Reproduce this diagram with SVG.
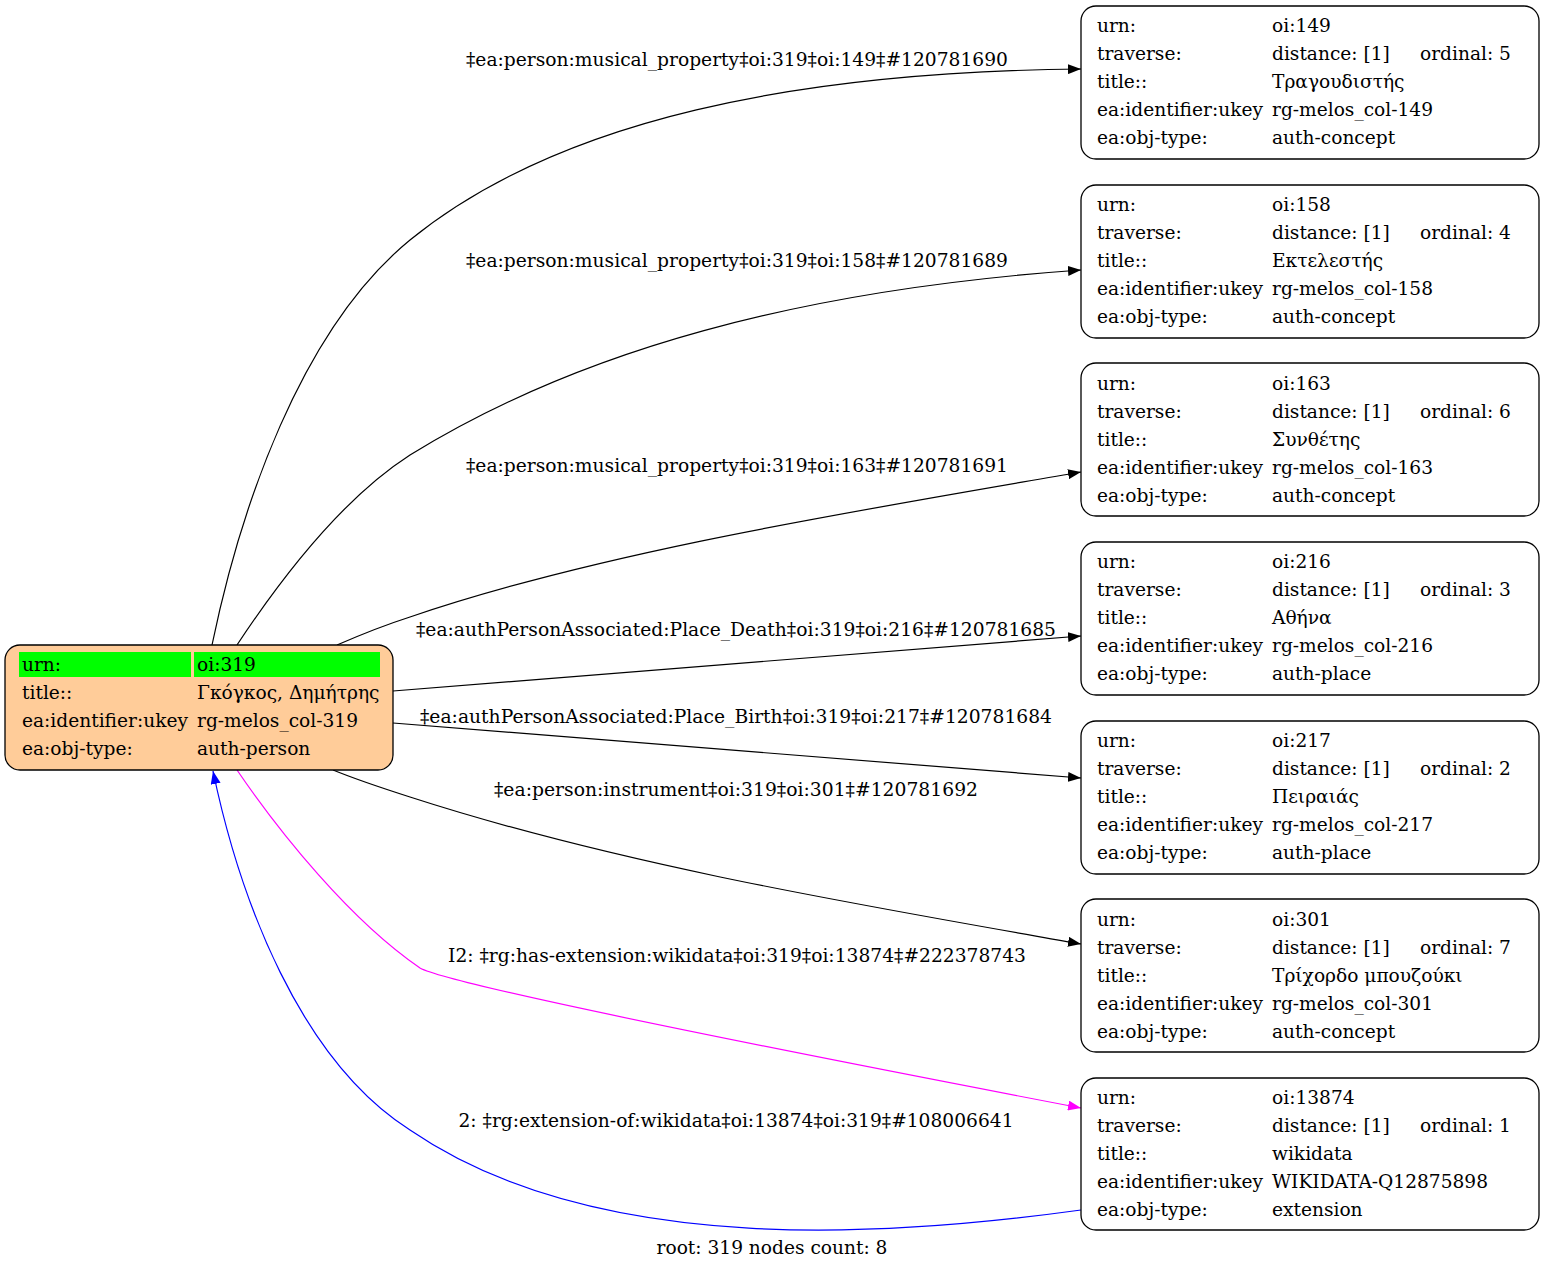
<svg xmlns="http://www.w3.org/2000/svg" width="1545" height="1268" viewBox="0 0 1545 1268">
<style>
text{font-family:"DejaVu Serif","Liberation Serif",serif;font-size:18.6px;fill:#000}
.el{font-size:18px}
.nb{fill:#fff;stroke:#000;stroke-width:1.3}
.root{fill:#ffcc99;stroke:#000;stroke-width:1.3}
.e{fill:none;stroke:#000;stroke-width:1.2}
.m{fill:none;stroke:#ff00ff;stroke-width:1.2}
.b{fill:none;stroke:#0000ff;stroke-width:1.2}
</style>
<defs>
<marker id="ak" viewBox="0 0 13 10" refX="13" refY="5" markerWidth="13" markerHeight="10" markerUnits="userSpaceOnUse" orient="auto"><path d="M0,0 L13,5 L0,10 z" fill="#000"/></marker>
<marker id="am" viewBox="0 0 13 10" refX="13" refY="5" markerWidth="13" markerHeight="10" markerUnits="userSpaceOnUse" orient="auto"><path d="M0,0 L13,5 L0,10 z" fill="#ff00ff"/></marker>
<marker id="ab" viewBox="0 0 13 10" refX="13" refY="5" markerWidth="13" markerHeight="10" markerUnits="userSpaceOnUse" orient="auto"><path d="M0,0 L13,5 L0,10 z" fill="#0000ff"/></marker>
</defs>
<rect width="1545" height="1268" fill="#fff"/>
<g id="edges">
<path class="e" d="M212,645 C240,510 300,330 410,240 C560,118 800,72 1081,69" marker-end="url(#ak)"/>
<text class="el" x="737" y="66" text-anchor="middle" textLength="542" lengthAdjust="spacingAndGlyphs">‡ea:person:musical_property‡oi:319‡oi:149‡#120781690</text>
<path class="e" d="M237,645 C280,580 340,500 410,455 C580,350 800,290 1081,270" marker-end="url(#ak)"/>
<text class="el" x="737" y="267" text-anchor="middle" textLength="542" lengthAdjust="spacingAndGlyphs">‡ea:person:musical_property‡oi:319‡oi:158‡#120781689</text>
<path class="e" d="M337,645 C360,635 385,625 410,617 C600,552 850,512 1081,472" marker-end="url(#ak)"/>
<text class="el" x="737" y="472" text-anchor="middle" textLength="542" lengthAdjust="spacingAndGlyphs">‡ea:person:musical_property‡oi:319‡oi:163‡#120781691</text>
<path class="e" d="M393,691 L1081,636" marker-end="url(#ak)"/>
<text class="el" x="736" y="636" text-anchor="middle" textLength="640" lengthAdjust="spacingAndGlyphs">‡ea:authPersonAssociated:Place_Death‡oi:319‡oi:216‡#120781685</text>
<path class="e" d="M393,723 L1081,778" marker-end="url(#ak)"/>
<text class="el" x="736" y="723" text-anchor="middle" textLength="632" lengthAdjust="spacingAndGlyphs">‡ea:authPersonAssociated:Place_Birth‡oi:319‡oi:217‡#120781684</text>
<path class="e" d="M333,770 C355,779 385,789 410,797 C620,865 860,905 1081,944" marker-end="url(#ak)"/>
<text class="el" x="736" y="796" text-anchor="middle" textLength="484" lengthAdjust="spacingAndGlyphs">‡ea:person:instrument‡oi:319‡oi:301‡#120781692</text>
<path class="m" d="M237,770 C280,833 350,920 420,968 C445,982 700,1035 1081,1108" marker-end="url(#am)"/>
<text class="el" x="737" y="962" text-anchor="middle" textLength="578" lengthAdjust="spacingAndGlyphs">I2: ‡rg:has-extension:wikidata‡oi:319‡oi:13874‡#222378743</text>
<path class="b" d="M1081,1210 C900,1235 600,1260 410,1130 C300,1060 240,900 213,771" marker-end="url(#ab)"/>
<text class="el" x="736" y="1127" text-anchor="middle" textLength="555" lengthAdjust="spacingAndGlyphs">2: ‡rg:extension-of:wikidata‡oi:13874‡oi:319‡#108006641</text>
</g>
<g id="node-319">
<rect class="root" x="5" y="645" width="388" height="125" rx="15"/>
<rect x="19" y="652" width="172" height="25" fill="#00ff00"/>
<rect x="194" y="652" width="186" height="25" fill="#00ff00"/>
<text x="22" y="671">urn:</text><text x="197" y="671">oi:319</text>
<text x="22" y="699">title::</text><text x="197" y="699">Γκόγκος, Δημήτρης</text>
<text x="22" y="727">ea:identifier:ukey</text><text x="197" y="727">rg-melos_col-319</text>
<text x="22" y="755">ea:obj-type:</text><text x="197" y="755">auth-person</text>
</g>
<g id="node-149">
<rect class="nb" x="1081" y="6" width="458" height="153" rx="15"/>
<text x="1097" y="32">urn:</text><text x="1272" y="32">oi:149</text>
<text x="1097" y="60">traverse:</text><text x="1272" y="60">distance: [1]</text><text x="1420" y="60">ordinal: 5</text>
<text x="1097" y="88">title::</text><text x="1272" y="88">Τραγουδιστής</text>
<text x="1097" y="116">ea:identifier:ukey</text><text x="1272" y="116">rg-melos_col-149</text>
<text x="1097" y="144">ea:obj-type:</text><text x="1272" y="144">auth-concept</text>
</g>
<g id="node-158">
<rect class="nb" x="1081" y="185" width="458" height="153" rx="15"/>
<text x="1097" y="211">urn:</text><text x="1272" y="211">oi:158</text>
<text x="1097" y="239">traverse:</text><text x="1272" y="239">distance: [1]</text><text x="1420" y="239">ordinal: 4</text>
<text x="1097" y="267">title::</text><text x="1272" y="267">Εκτελεστής</text>
<text x="1097" y="295">ea:identifier:ukey</text><text x="1272" y="295">rg-melos_col-158</text>
<text x="1097" y="323">ea:obj-type:</text><text x="1272" y="323">auth-concept</text>
</g>
<g id="node-163">
<rect class="nb" x="1081" y="363" width="458" height="153" rx="15"/>
<text x="1097" y="390">urn:</text><text x="1272" y="390">oi:163</text>
<text x="1097" y="418">traverse:</text><text x="1272" y="418">distance: [1]</text><text x="1420" y="418">ordinal: 6</text>
<text x="1097" y="446">title::</text><text x="1272" y="446">Συνθέτης</text>
<text x="1097" y="474">ea:identifier:ukey</text><text x="1272" y="474">rg-melos_col-163</text>
<text x="1097" y="502">ea:obj-type:</text><text x="1272" y="502">auth-concept</text>
</g>
<g id="node-216">
<rect class="nb" x="1081" y="542" width="458" height="153" rx="15"/>
<text x="1097" y="568">urn:</text><text x="1272" y="568">oi:216</text>
<text x="1097" y="596">traverse:</text><text x="1272" y="596">distance: [1]</text><text x="1420" y="596">ordinal: 3</text>
<text x="1097" y="624">title::</text><text x="1272" y="624">Αθήνα</text>
<text x="1097" y="652">ea:identifier:ukey</text><text x="1272" y="652">rg-melos_col-216</text>
<text x="1097" y="680">ea:obj-type:</text><text x="1272" y="680">auth-place</text>
</g>
<g id="node-217">
<rect class="nb" x="1081" y="721" width="458" height="153" rx="15"/>
<text x="1097" y="747">urn:</text><text x="1272" y="747">oi:217</text>
<text x="1097" y="775">traverse:</text><text x="1272" y="775">distance: [1]</text><text x="1420" y="775">ordinal: 2</text>
<text x="1097" y="803">title::</text><text x="1272" y="803">Πειραιάς</text>
<text x="1097" y="831">ea:identifier:ukey</text><text x="1272" y="831">rg-melos_col-217</text>
<text x="1097" y="859">ea:obj-type:</text><text x="1272" y="859">auth-place</text>
</g>
<g id="node-301">
<rect class="nb" x="1081" y="899" width="458" height="153" rx="15"/>
<text x="1097" y="926">urn:</text><text x="1272" y="926">oi:301</text>
<text x="1097" y="954">traverse:</text><text x="1272" y="954">distance: [1]</text><text x="1420" y="954">ordinal: 7</text>
<text x="1097" y="982">title::</text><text x="1272" y="982">Τρίχορδο μπουζούκι</text>
<text x="1097" y="1010">ea:identifier:ukey</text><text x="1272" y="1010">rg-melos_col-301</text>
<text x="1097" y="1038">ea:obj-type:</text><text x="1272" y="1038">auth-concept</text>
</g>
<g id="node-13874">
<rect class="nb" x="1081" y="1078" width="458" height="152" rx="15"/>
<text x="1097" y="1104">urn:</text><text x="1272" y="1104">oi:13874</text>
<text x="1097" y="1132">traverse:</text><text x="1272" y="1132">distance: [1]</text><text x="1420" y="1132">ordinal: 1</text>
<text x="1097" y="1160">title::</text><text x="1272" y="1160">wikidata</text>
<text x="1097" y="1188">ea:identifier:ukey</text><text x="1272" y="1188">WIKIDATA-Q12875898</text>
<text x="1097" y="1216">ea:obj-type:</text><text x="1272" y="1216">extension</text>
</g>
<text x="772" y="1254" text-anchor="middle">root: 319 nodes count: 8</text>
</svg>
